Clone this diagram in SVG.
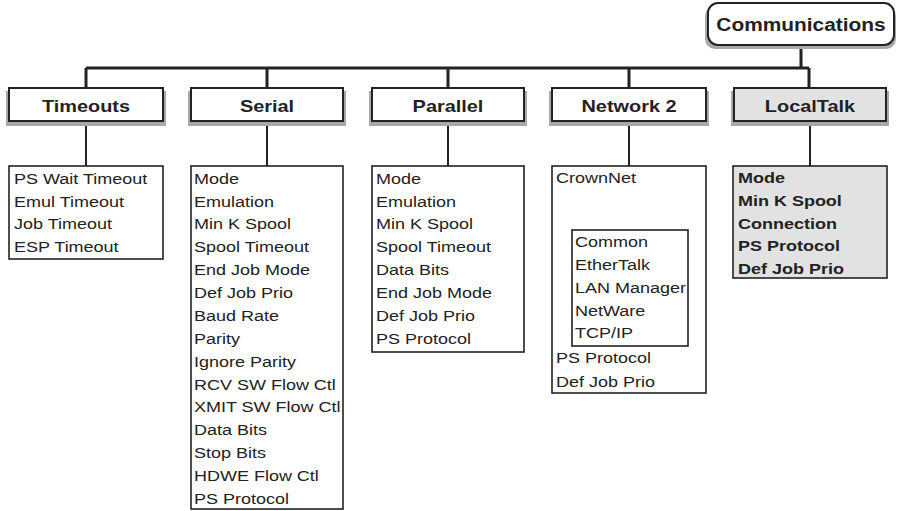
<svg xmlns="http://www.w3.org/2000/svg" width="898" height="511" viewBox="0 0 898 511">
<style>
.hdr{fill:#fff;stroke:#222;stroke-width:2}
.hdrg{fill:#e2e2e2;stroke:#222;stroke-width:2}
.shd{fill:#a8a8a8}
.lst{fill:#fff;stroke:#222;stroke-width:1.6}
.lstg{fill:#e2e2e2;stroke:#222;stroke-width:1.6}
.ht{font-family:"Liberation Sans",Arial,sans-serif;font-weight:bold;font-size:17px;fill:#222;text-anchor:middle}
.ct{font-family:"Liberation Sans",Arial,sans-serif;font-weight:bold;font-size:18px;fill:#222;text-anchor:middle}
.lt{font-family:"Liberation Sans",Arial,sans-serif;font-size:15px;fill:#222}
.lb{font-family:"Liberation Sans",Arial,sans-serif;font-size:15px;font-weight:bold;fill:#222}
.bus{stroke:#222;stroke-width:3;fill:none}
.thin{stroke:#222;stroke-width:2;fill:none}
</style>
<rect width="898" height="511" fill="#fff"/>
<g id="connectors">
<path class="bus" d="M801 45V68M86 68H809M86 68V89M267 68V89M448 68V89M629 68V89M809 68V89"/>
<path class="thin" d="M86 121V166M267 121V166M448 121V166M629 121V166M810 121V166M629 190V230"/>
</g>
<g id="communications">
<rect class="shd" x="705" y="6" width="191" height="43" rx="10"/>
<rect class="hdr" x="708" y="3" width="186" height="42" rx="10"/>
<text class="ct" transform="translate(801,31) scale(1.16,1)">Communications</text>
</g>
<g id="timeouts">
<rect class="shd" x="6" y="91" width="160" height="35"/>
<rect class="hdr" x="9" y="88" width="154" height="33"/>
<text class="ht" transform="translate(86,112) scale(1.17,1)">Timeouts</text>
</g>
<g id="serial">
<rect class="shd" x="188" y="91" width="158" height="35"/>
<rect class="hdr" x="191" y="88" width="152" height="33"/>
<text class="ht" transform="translate(267,112) scale(1.17,1)">Serial</text>
</g>
<g id="parallel">
<rect class="shd" x="369" y="91" width="158" height="35"/>
<rect class="hdr" x="372" y="88" width="152" height="33"/>
<text class="ht" transform="translate(448,112) scale(1.17,1)">Parallel</text>
</g>
<g id="network2">
<rect class="shd" x="549" y="91" width="160" height="35"/>
<rect class="hdr" x="552" y="88" width="154" height="33"/>
<text class="ht" transform="translate(629,112) scale(1.17,1)">Network 2</text>
</g>
<g id="localtalk">
<rect class="shd" x="731" y="91" width="158" height="35"/>
<rect class="hdrg" x="734" y="88" width="152" height="33"/>
<text class="ht" transform="translate(810,112) scale(1.17,1)">LocalTalk</text>
</g>
<g id="timeouts-list">
<rect class="lst" x="9" y="166" width="154" height="93"/>
<g class="lt" transform="translate(14,0) scale(1.2,1)">
<text x="0" y="184">PS Wait Timeout</text>
<text x="0" y="207">Emul Timeout</text>
<text x="0" y="229">Job Timeout</text>
<text x="0" y="252">ESP Timeout</text>
</g>
</g>
<g id="serial-list">
<rect class="lst" x="191" y="166" width="152" height="343"/>
<g class="lt" transform="translate(194,0) scale(1.2,1)">
<text x="0" y="184">Mode</text>
<text x="0" y="207">Emulation</text>
<text x="0" y="229">Min K Spool</text>
<text x="0" y="252">Spool Timeout</text>
<text x="0" y="275">End Job Mode</text>
<text x="0" y="298">Def Job Prio</text>
<text x="0" y="321">Baud Rate</text>
<text x="0" y="344">Parity</text>
<text x="0" y="367">Ignore Parity</text>
<text x="0" y="390">RCV SW Flow Ctl</text>
<text x="0" y="412">XMIT SW Flow Ctl</text>
<text x="0" y="435">Data Bits</text>
<text x="0" y="458">Stop Bits</text>
<text x="0" y="481">HDWE Flow Ctl</text>
<text x="0" y="504">PS Protocol</text>
</g>
</g>
<g id="parallel-list">
<rect class="lst" x="372" y="166" width="152" height="186"/>
<g class="lt" transform="translate(376,0) scale(1.2,1)">
<text x="0" y="184">Mode</text>
<text x="0" y="207">Emulation</text>
<text x="0" y="229">Min K Spool</text>
<text x="0" y="252">Spool Timeout</text>
<text x="0" y="275">Data Bits</text>
<text x="0" y="298">End Job Mode</text>
<text x="0" y="321">Def Job Prio</text>
<text x="0" y="344">PS Protocol</text>
</g>
</g>
<g id="network2-list">
<rect class="lst" x="552" y="166" width="154" height="227"/>
<g class="lt" transform="translate(556,0) scale(1.2,1)">
<text x="0" y="183">CrownNet</text>
<text x="0" y="363">PS Protocol</text>
<text x="0" y="387">Def Job Prio</text>
</g>
</g>
<g id="crownnet-list">
<rect class="lst" x="572" y="230" width="116" height="116"/>
<g class="lt" transform="translate(575,0) scale(1.2,1)">
<text x="0" y="247">Common</text>
<text x="0" y="270">EtherTalk</text>
<text x="0" y="293">LAN Manager</text>
<text x="0" y="316">NetWare</text>
<text x="0" y="338">TCP/IP</text>
</g>
</g>
<g id="localtalk-list">
<rect class="lstg" x="733" y="166" width="154" height="112"/>
<g class="lb" transform="translate(738,0) scale(1.2,1)">
<text x="0" y="183">Mode</text>
<text x="0" y="206">Min K Spool</text>
<text x="0" y="229">Connection</text>
<text x="0" y="251">PS Protocol</text>
<text x="0" y="274">Def Job Prio</text>
</g>
</g>
</svg>
